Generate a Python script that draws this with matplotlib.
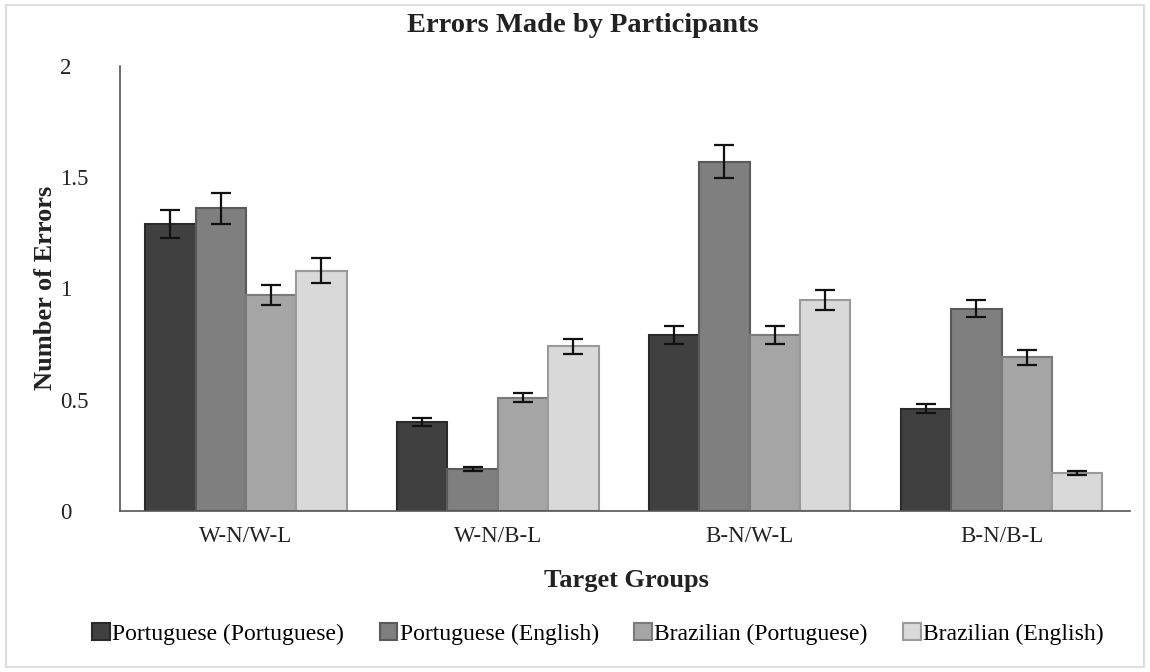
import numpy as np
import matplotlib.pyplot as plt

groups = ["W-N/W-L", "W-N/B-L", "B-N/W-L", "B-N/B-L"]
series = ["Portuguese (Portuguese)", "Portuguese (English)",
          "Brazilian (Portuguese)", "Brazilian (English)"]

pt_pt = [1.29, 0.40, 0.79, 0.46]
pt_en = [1.36, 0.19, 1.57, 0.91]
br_pt = [0.97, 0.51, 0.79, 0.69]
br_en = [1.08, 0.74, 0.95, 0.17]

pt_pt_err = [0.065, 0.02, 0.04, 0.02]
pt_en_err = [0.07, 0.01, 0.075, 0.04]
br_pt_err = [0.045, 0.02, 0.04, 0.035]
br_en_err = [0.055, 0.035, 0.045, 0.01]

plt.rcParams['font.family'] = ['Liberation Serif', 'DejaVu Serif']

fills = ["#404040", "#7f7f7f", "#a5a5a5", "#d9d9d9"]
edges = ["#2a2a2a", "#5a5a5a", "#7a7a7a", "#9a9a9a"]

fig = plt.figure(figsize=(11.5, 6.72), dpi=100)
ax = fig.add_axes([120 / 1150, 1 - 511 / 672, 1010 / 1150, 445 / 672])

x = np.arange(len(groups))
w = 0.2
vals = [pt_pt, pt_en, br_pt, br_en]
errs = [pt_pt_err, pt_en_err, br_pt_err, br_en_err]
for i in range(4):
    ax.bar(x + (i - 1.5) * w, vals[i], w, yerr=errs[i], color=fills[i],
           edgecolor=edges[i], linewidth=1.5, label=series[i],
           error_kw=dict(ecolor="#111111", elinewidth=1.6, capsize=7, capthick=1.6))

ax.set_xlim(-0.5, 3.51)
ax.set_ylim(0, 2)
ax.set_yticks([0, 0.5, 1, 1.5, 2])
ax.set_yticklabels(["0", "0.5", "1", "1.5", "2"])
ax.set_xticks(x)
ax.set_xticklabels(groups)
ax.tick_params(axis="both", length=0, labelsize=16.5, colors="#222222")
ax.tick_params(axis="y", pad=43)
for lab in ax.get_yticklabels():
    lab.set_horizontalalignment("left")
ax.tick_params(axis="x", pad=11)

for side in ["top", "right"]:
    ax.spines[side].set_visible(False)
ax.spines["left"].set_color("#555555")
ax.spines["bottom"].set_color("#555555")
ax.spines["left"].set_linewidth(1.2)
ax.spines["bottom"].set_linewidth(1.2)

fig.text(583 / 1150, 1 - 25 / 672, "Errors Made by Participants", ha="center",
         va="center", fontsize=20.5, fontweight="bold", color="#222222")
fig.text(46 / 1150, 1 - 288 / 672, "Number of Errors", ha="center", va="center",
         rotation=90, fontsize=19, fontweight="bold", color="#222222")
fig.text(626 / 1150, 1 - 580 / 672, "Target Groups", ha="center", va="center",
         fontsize=19, fontweight="bold", color="#222222")

fig.legend(loc="center", bbox_to_anchor=(598 / 1150, 1 - 634 / 672), ncol=4,
           frameon=False, fontsize=17, handlelength=0.75, handleheight=0.75,
           handletextpad=0.1, columnspacing=1.5)

fig.patches.append(plt.Rectangle((0.005, 0.008), 0.99, 0.985, transform=fig.transFigure,
                                 fill=False, edgecolor="#dddddd", linewidth=1.5))

fig.savefig("out.png", dpi=100)
